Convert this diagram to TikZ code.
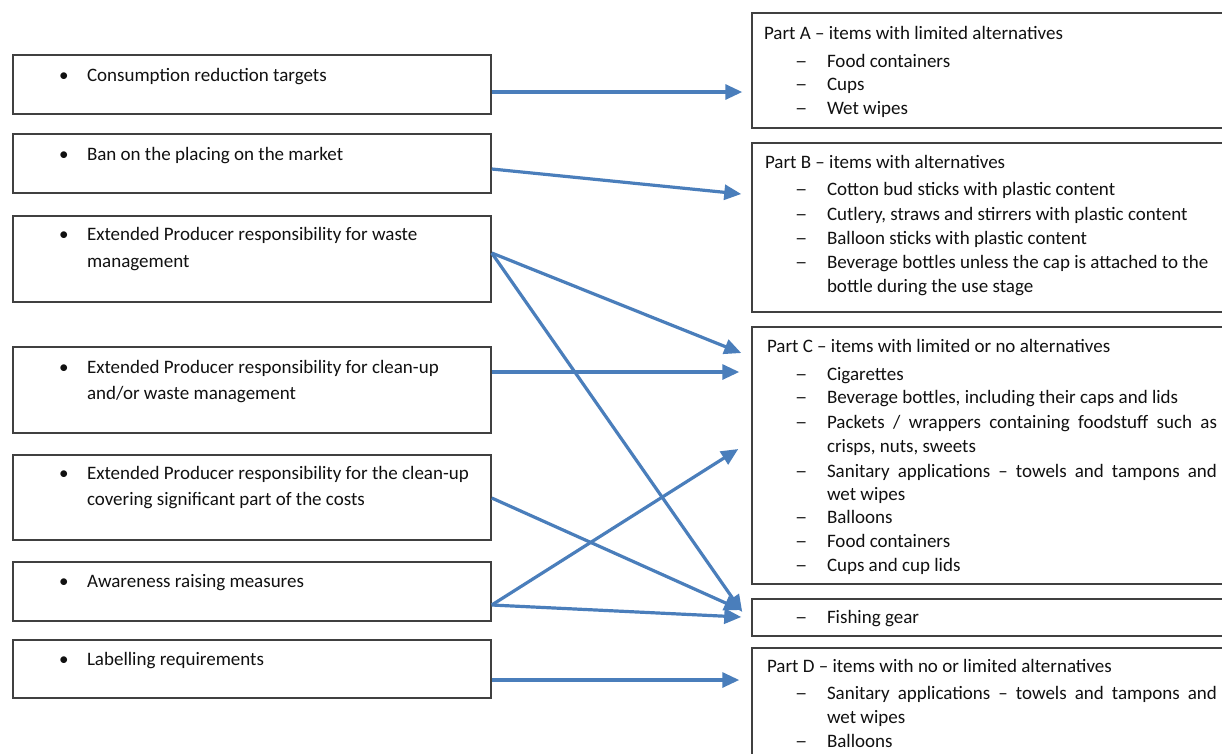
\documentclass[tikz,border=0pt]{standalone}
\usepackage{fontspec}
\usepackage{graphicx}
\setmainfont{Carlito}
\usetikzlibrary{arrows.meta,calc}
\definecolor{arrowblue}{HTML}{4A7EBB}
\definecolor{boxgray}{HTML}{404040}
\definecolor{textdark}{HTML}{111111}
\tikzset{
  lbox/.style={draw=boxgray, line width=1.5pt, rectangle, inner sep=0pt, minimum width=478pt},
  rbox/.style={draw=boxgray, line width=1.5pt, rectangle, inner sep=0pt, minimum width=480pt},
  txt/.style={anchor=base west, inner sep=0pt, outer sep=0pt, text=textdark, font=\fontsize{19}{24}\selectfont},
  conn/.style={draw=arrowblue, line width=3.2pt, -{Triangle[length=17pt,width=15pt]}},
}
\newcommand{\bul}[2]{\node[txt] at (59,#1) {\textbullet}; \node[txt] at (87,#1) {#2};}
\newcommand{\dsh}[2]{\node[txt] at (795,#1) {\scalebox{1.3}[1]{–}}; \node[txt] at (827,#1) {#2};}
\newcommand{\jst}[1]{\makebox[390pt][s]{#1}}
\begin{document}
\begin{tikzpicture}[x=1pt,y=-1pt]
\useasboundingbox[fill=white] (0,0) rectangle (1222,753);

% left boxes
\node[lbox, minimum height=59pt] (b1) at (252,84.5) {};
\node[lbox, minimum height=59pt] (b2) at (252,163.5) {};
\node[lbox, minimum height=86pt] (b3) at (252,259) {};
\node[lbox, minimum height=86pt] (b4) at (252,390) {};
\node[lbox, minimum height=85pt] (b5) at (252,497.5) {};
\node[lbox, minimum height=59pt] (b6) at (252,591.5) {};
\node[lbox, minimum height=58pt] (b7) at (252,669) {};

\bul{81}{Consumption reduction targets}
\bul{160}{Ban on the placing on the market}
\bul{240}{Extended Producer responsibility for waste}
\node[txt] at (87,267) {management};
\bul{373}{Extended Producer responsibility for clean-up}
\node[txt] at (87,399) {and/or waste management};
\bul{479}{Extended Producer responsibility for the clean-up}
\node[txt] at (87,505) {covering significant part of the costs};
\bul{587}{Awareness raising measures}
\bul{665}{Labelling requirements}

% right boxes
\node[rbox, minimum height=115pt] (pA) at (992,70.5) {};
\node[rbox, minimum height=169pt] (pB) at (992,227.5) {};
\node[rbox, minimum height=257pt] (pC) at (992,455.5) {};
\node[rbox, minimum height=37pt] (pF) at (992,617.5) {};
\node[rbox, minimum height=122pt] (pD) at (992,709) {};

\node[txt] at (764,39) {Part A – items with limited alternatives};
\dsh{67}{Food containers}
\dsh{90}{Cups}
\dsh{114}{Wet wipes}

\node[txt] at (765,168) {Part B – items with alternatives};
\dsh{195}{Cotton bud sticks with plastic content}
\dsh{220}{Cutlery, straws and stirrers with plastic content}
\dsh{244}{Balloon sticks with plastic content}
\dsh{268}{Beverage bottles unless the cap is attached to the}
\node[txt] at (827,292) {bottle during the use stage};

\node[txt] at (767,352) {Part C – items with limited or no alternatives};
\dsh{380}{Cigarettes}
\dsh{403}{Beverage bottles, including their caps and lids}
\dsh{428}{\jst{Packets / wrappers containing foodstuff such as}}
\node[txt] at (827,452) {crisps, nuts, sweets};
\dsh{477}{\jst{Sanitary applications – towels and tampons and}}
\node[txt] at (827,500) {wet wipes};
\dsh{523}{Balloons}
\dsh{547}{Food containers}
\dsh{571}{Cups and cup lids}

\dsh{623}{Fishing gear}

\node[txt] at (767,672) {Part D – items with no or limited alternatives};
\dsh{699}{\jst{Sanitary applications – towels and tampons and}}
\node[txt] at (827,723) {wet wipes};
\dsh{747}{Balloons}

% connector end points
\coordinate (s1) at (b1.east |- 0,92);
\coordinate (s2) at (b2.east |- 0,169);
\coordinate (s3) at (b3.east |- 0,253);
\coordinate (s4) at (b4.east |- 0,372);
\coordinate (s5) at (b5.east |- 0,498);
\coordinate (s6) at (b6.east |- 0,605);
\coordinate (s7) at (b7.east |- 0,680);

\coordinate (tA) at ($(pA.west |- 0,92)+(-9,0)$);
\coordinate (tB) at ($(pB.west |- 0,194)+(-10,0)$);
\coordinate (tC1) at ($(pC.west |- 0,353)+(-10,0)$);
\coordinate (tC2) at ($(pC.west |- 0,372)+(-12,0)$);
\coordinate (tC3) at ($(pC.west |- 0,449)+(-13,0)$);
\coordinate (tF1) at ($(pF.west |- 0,612)+(-9,0)$);
\coordinate (tF2) at ($(pF.west |- 0,610)+(-10,0)$);
\coordinate (tF3) at ($(pF.west |- 0,617)+(-10,0)$);
\coordinate (tD) at ($(pD.west |- 0,680)+(-12,0)$);

\draw[conn] (s1) -- (tA);
\draw[conn] (s2) -- (tB);
\draw[conn] (s3) -- (tC1);
\draw[conn] (s3) -- (tF1);
\draw[conn] (s4) -- (tC2);
\draw[conn] (s5) -- (tF2);
\draw[conn] (s6) -- (tC3);
\draw[conn] (s6) -- (tF3);
\draw[conn] (s7) -- (tD);
\end{tikzpicture}
\end{document}
